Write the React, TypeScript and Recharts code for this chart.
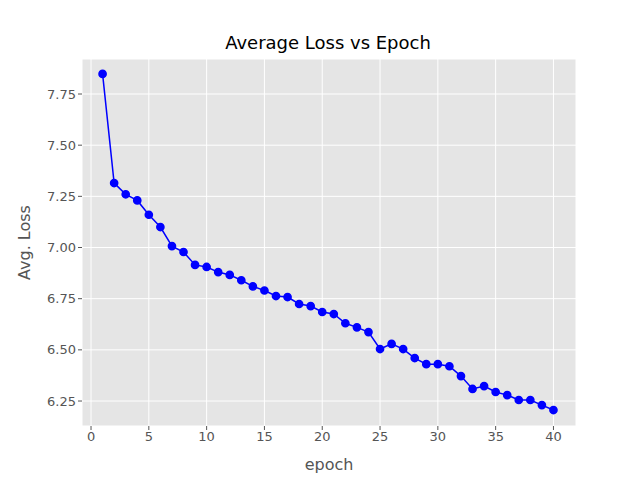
import { LineChart, Line, XAxis, YAxis, CartesianGrid } from 'recharts';

const epochs = Array.from({ length: 40 }, (_, i) => i + 1);
const losses = [
  7.848, 7.315, 7.26, 7.23, 7.16, 7.1, 7.007, 6.978, 6.915, 6.905,
  6.88, 6.866, 6.84, 6.81, 6.79, 6.763, 6.758, 6.724, 6.714, 6.685,
  6.675, 6.63, 6.61, 6.587, 6.504, 6.529, 6.504, 6.46, 6.43, 6.43,
  6.42, 6.372, 6.309, 6.323, 6.294, 6.279, 6.255, 6.255, 6.23, 6.206,
];
const xTicks = [0, 5, 10, 15, 20, 25, 30, 35, 40];
const yTicks = [6.25, 6.5, 6.75, 7.0, 7.25, 7.5, 7.75];

const data = epochs.map((epoch, i) => ({ epoch, loss: losses[i] }));

const tickStyle = { fill: '#555555', fontSize: 13, fontFamily: 'DejaVu Sans' };

export default function App() {
  return (
    <div style={{ position: 'absolute', left: 0, top: 0, width: 640, height: 480, background: '#fff' }}>
      <div
        style={{
          position: 'absolute',
          top: 32,
          width: 656,
          textAlign: 'center',
          fontFamily: 'DejaVu Sans',
          fontSize: 18,
          color: '#000',
        }}
      >
        Average Loss vs Epoch
      </div>
      <LineChart width={640} height={480} data={data} margin={{ top: 59, right: 64, bottom: 0, left: 0 }}>
        <CartesianGrid fill="#E5E5E5" stroke="#FFFFFF" strokeWidth={1} />
        <XAxis
          dataKey="epoch"
          type="number"
          domain={[-0.78, 41.95]}
          ticks={xTicks}
          axisLine={false}
          tickLine={{ stroke: '#555555' }}
          tickSize={4}
          tick={tickStyle}
          height={54}
          label={{ value: 'epoch', position: 'insideBottom', offset: 10, fill: '#555555', fontSize: 16, fontFamily: 'DejaVu Sans' }}
        />
        <YAxis
          type="number"
          domain={[6.128, 7.921]}
          ticks={yTicks}
          allowDataOverflow
          axisLine={false}
          tickLine={{ stroke: '#555555' }}
          tickSize={4}
          tick={tickStyle}
          tickFormatter={(v: number) => v.toFixed(2)}
          width={82}
          label={{ value: 'Avg. Loss', angle: -90, position: 'insideLeft', offset: 24, fill: '#555555', fontSize: 16, fontFamily: 'DejaVu Sans', style: { textAnchor: 'middle' } }}
        />
        <Line
          dataKey="loss"
          stroke="#0000FF"
          strokeWidth={1.5}
          dot={{ r: 3.6, fill: '#0000FF', stroke: '#0000FF' }}
          isAnimationActive={false}
        />
      </LineChart>
    </div>
  );
}
